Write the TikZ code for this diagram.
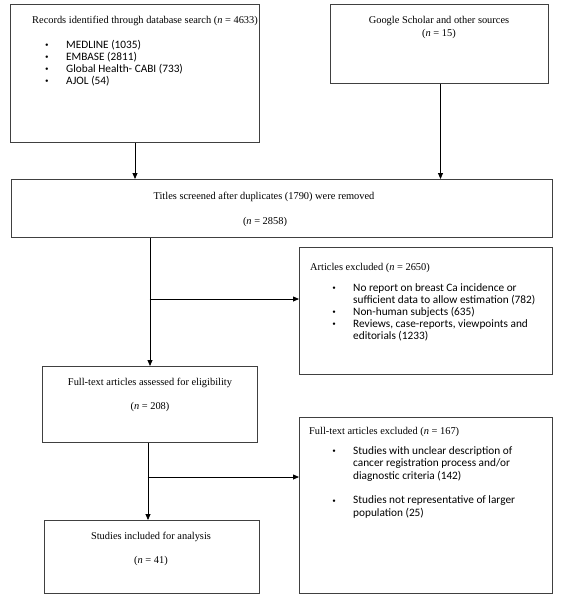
\documentclass[tikz,border=0pt]{standalone}
\usepackage{fontspec}
\setmainfont{Liberation Serif}
\newfontfamily\calib{Carlito}
\usetikzlibrary{arrows.meta}
\begin{document}
\begin{tikzpicture}[x=1pt,y=-1pt,
  box/.style={draw=black!75, line width=1pt, rectangle, anchor=north west, inner sep=0pt},
  conn/.style={draw=black, line width=0.8pt},
  arr/.style={conn,-{Triangle[length=6pt,width=5pt]}},
  tt/.style={font=\fontsize{10.4}{12}\selectfont, inner sep=0pt},
  bt/.style={font=\calib\fontsize{11.3}{12}\selectfont, inner sep=0pt},
  bul/.style={font=\fontsize{10}{10}\selectfont, inner sep=0pt, yshift=-0.8pt}]
\useasboundingbox (0,0) rectangle (562,600);
% boxes
\node[box, minimum width=249pt, minimum height=138pt] (b1) at (10,4) {};
\node[box, minimum width=218pt, minimum height=79pt] (gs) at (330,4) {};
\node[box, minimum width=541pt, minimum height=58pt] (ti) at (11,179) {};
\node[box, minimum width=253pt, minimum height=127pt] (ex1) at (299,247) {};
\node[box, minimum width=215pt, minimum height=76pt] (ft) at (42,366) {};
\node[box, minimum width=253pt, minimum height=176pt] (ex2) at (299,417) {};
\node[box, minimum width=215pt, minimum height=73pt] (st) at (44,520) {};
% box 1 text
\node[tt, anchor=west] (b1t) at (32,21) {Records identified through database search (\textit{n} = 4633)};
\foreach \y/\t [count=\i] in {45/MEDLINE (1035), 57/EMBASE (2811), 69/Global Health- CABI (733), 81/AJOL (54)} {
  \node[bul] (b1b\i) at (47,\y) {•};
  \node[bt, anchor=west] (b1l\i) at (66,\y) {\t};
}
% google text
\node[tt] (gst1) at (439,21) {Google Scholar and other sources};
\node[tt] (gst2) at (439,34) {(\textit{n} = 15)};
% titles text
\node[tt] (tit1) at (264,197) {Titles screened after duplicates (1790) were removed};
\node[tt] (tit2) at (265,222) {(\textit{n} = 2858)};
% excluded 1
\node[tt, anchor=west] (ex1t) at (310,268) {Articles excluded (\textit{n} = 2650)};
\node[bul] (ex1b1) at (334,288) {•};
\node[bt, anchor=west] (ex1l1) at (353,288) {No report on breast Ca incidence or};
\node[bt, anchor=west] (ex1l2) at (353,300) {sufficient data to allow estimation (782)};
\node[bul] (ex1b2) at (334,312) {•};
\node[bt, anchor=west] (ex1l3) at (353,312) {Non-human subjects (635)};
\node[bul] (ex1b3) at (334,324) {•};
\node[bt, anchor=west] (ex1l4) at (353,324) {Reviews, case-reports, viewpoints and};
\node[bt, anchor=west] (ex1l5) at (353,336) {editorials (1233)};
% full text
\node[tt] (ftt1) at (150,383) {Full-text articles assessed for eligibility};
\node[tt] (ftt2) at (150,407) {(\textit{n} = 208)};
% excluded 2
\node[tt, anchor=west] (ex2t) at (309,432) {Full-text articles excluded (\textit{n} = 167)};
\node[bul] (ex2b1) at (334,451) {•};
\node[bt, anchor=west] (ex2l1) at (353,451) {Studies with unclear description of};
\node[bt, anchor=west] (ex2l2) at (353,463.5) {cancer registration process and/or};
\node[bt, anchor=west] (ex2l3) at (353,476) {diagnostic criteria (142)};
\node[bul] (ex2b2) at (334,501) {•};
\node[bt, anchor=west] (ex2l4) at (353,501) {Studies not representative of larger};
\node[bt, anchor=west] (ex2l5) at (353,513.5) {population (25)};
% studies
\node[tt] (stt1) at (151,537) {Studies included for analysis};
\node[tt] (stt2) at (151,561) {(\textit{n} = 41)};
% connectors
\draw[arr] (b1.south) -- (b1.south |- ti.north);
\draw[arr] ([xshift=1pt]gs.south) -- ([xshift=1pt]gs.south |- ti.north);
\draw[arr] (ti.south -| ft.north) -- (ft.north);
\coordinate (j1) at (149.5,299);
\draw[arr] (j1) -- (j1 -| ex1.west);
\draw[arr] ([xshift=-2pt]ft.south) -- ([xshift=-2pt]ft.south |- st.north);
\coordinate (j2) at (147.5,477);
\draw[arr] (j2) -- (j2 -| ex2.west);
\end{tikzpicture}
\end{document}
